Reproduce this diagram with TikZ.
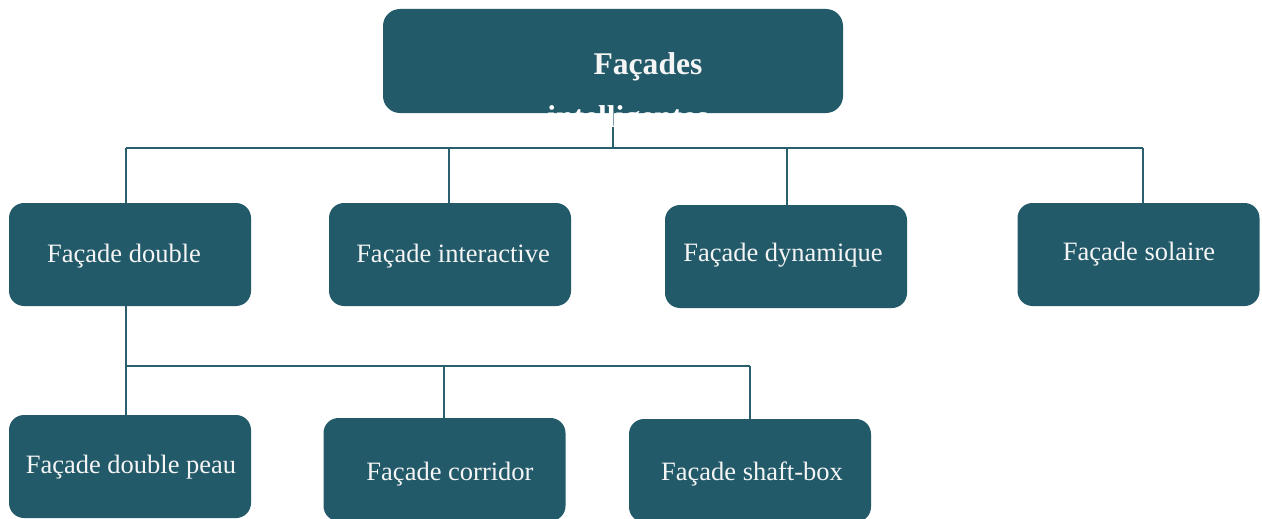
\documentclass[tikz,border=0pt]{standalone}
\usepackage{fontspec}
\setmainfont{Liberation Serif}
\definecolor{facadeteal}{HTML}{225A69}
\definecolor{linkteal}{HTML}{2A5F6E}
\begin{document}
\begin{tikzpicture}[x=1pt,y=-1pt,
  box/.style={fill=facadeteal, rounded corners=15pt, minimum width=242pt,
    minimum height=103pt, inner sep=0pt},
  boxtext/.style={text=white!96!black, inner sep=0pt,
    font=\fontsize{26.5}{32}\selectfont},
  headbox/.style={box, rounded corners=17pt, minimum width=460pt, minimum height=104pt},
  headtext/.style={text=white!96!black, inner sep=0pt, anchor=base,
    font=\fontsize{31.6}{38}\selectfont\bfseries},
  link/.style={draw=linkteal, line width=2pt}]
\useasboundingbox (0,0) rectangle (1262,519);
\clip (0,0) rectangle (1262,519);

% root box
\node[headbox] (root) at (613,61) {};
\node[headtext] (roottitle) at (648,75) {Façades};

% first level
\node[box] (double)  at (130,254.5)  {};
\node[box] (inter)   at (450,254.5)  {};
\node[box] (dyn)     at (786,256.5)  {};
\node[box] (solaire) at (1138.5,254.5) {};
\node[boxtext] (doublet)  at ([shift={(-6,2)}]double.center)  {Façade double};
\node[boxtext] (intert)   at ([shift={(3,2)}]inter.center)    {Façade interactive};
\node[boxtext] (dynt)     at ([shift={(-3,-1)}]dyn.center)    {Façade dynamique};
\node[boxtext] (solairet) at ([shift={(0.5,0)}]solaire.center) {Façade solaire};

% second level
\node[box] (peau)     at (130,466.5)  {};
\node[box] (corridor) at (444.5,469.5) {};
\node[box] (shaft)    at (750,470.5)  {};
\node[boxtext] (peaut)     at ([shift={(1,1)}]peau.center)     {Façade double peau};
\node[boxtext] (corridort) at ([shift={(5.5,5)}]corridor.center) {Façade corridor};
\node[boxtext] (shaftt)    at ([shift={(2,3)}]shaft.center)    {Façade shaft-box};

% bus junctions
\coordinate (busA) at (126,148);
\coordinate (busB) at (449,148);
\coordinate (busC) at (787,148);
\coordinate (busD) at (1143,148);
\coordinate (busR) at (613,148);
\coordinate (sub1) at (126,366);
\coordinate (sub2) at (444,366);
\coordinate (sub3) at (750,366);

% connectors, level one
\draw[link] (root.south -| busR) -- (busR);
\draw[link] (busA) -- (busD);
\draw[link] (busA) -- (busA |- double.north);
\draw[link] (busB) -- (busB |- inter.north);
\draw[link] (busC) -- (busC |- dyn.north);
\draw[link] (busD) -- (busD |- solaire.north);

% connectors, level two
\draw[link] (sub1 |- double.south) -- (sub1 |- peau.north);
\draw[link] (sub1) -- (sub3);
\draw[link] (sub2) -- (sub2 |- corridor.north);
\draw[link] (sub3) -- (sub3 |- shaft.north);

% second line of the root title, running past the box
\node[headtext, text=white] (rootsub) at (628,128) {intelligentes};
\end{tikzpicture}
\end{document}
